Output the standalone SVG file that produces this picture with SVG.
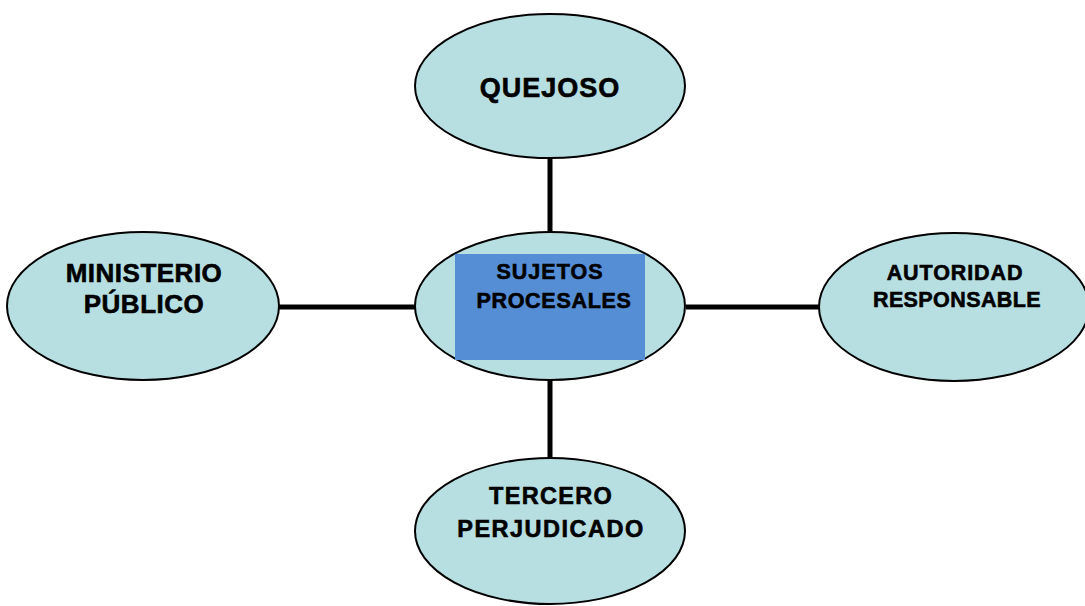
<svg xmlns="http://www.w3.org/2000/svg" width="1085" height="606" viewBox="0 0 1085 606">
<style>
.node{fill:#b7dfe2;stroke:#000;stroke-width:2}
.conn{stroke:#000;stroke-width:5;fill:none}
.lbl{font-family:"Liberation Sans",Arial,sans-serif;font-weight:bold;fill:#000;stroke:#000;stroke-width:0.6;text-anchor:middle}
</style>
<rect width="1085" height="606" fill="#fff"/>
<g id="connectors">
<line class="conn" x1="550" y1="158" x2="550" y2="233"/>
<line class="conn" x1="550" y1="380" x2="550" y2="458"/>
<line class="conn" x1="279" y1="307" x2="415" y2="307"/>
<line class="conn" x1="686" y1="307" x2="819" y2="307"/>
</g>
<g id="quejoso">
<ellipse class="node" cx="550" cy="86" rx="135" ry="72"/>
<text class="lbl" x="550" y="97" font-size="27" letter-spacing="1">QUEJOSO</text>
</g>
<g id="sujetos">
<ellipse class="node" cx="550" cy="306" rx="135" ry="74"/>
<rect x="455" y="254" width="190" height="106" fill="#558ed5"/>
<text class="lbl" x="550" y="279" font-size="21.5" letter-spacing="1">SUJETOS</text>
<text class="lbl" x="554" y="308" font-size="21.5" letter-spacing="0.7">PROCESALES</text>
</g>
<g id="ministerio">
<ellipse class="node" cx="143" cy="306" rx="136" ry="74"/>
<text class="lbl" x="144" y="282" font-size="26" letter-spacing="0.5">MINISTERIO</text>
<text class="lbl" x="144" y="313" font-size="26" letter-spacing="0.5">PÚBLICO</text>
</g>
<g id="autoridad">
<ellipse class="node" cx="954" cy="307" rx="135" ry="74"/>
<text class="lbl" x="955" y="280" font-size="21.5" letter-spacing="0.9">AUTORIDAD</text>
<text class="lbl" x="957" y="307" font-size="21.5" letter-spacing="0.4">RESPONSABLE</text>
</g>
<g id="tercero">
<ellipse class="node" cx="550" cy="531" rx="135" ry="73"/>
<text class="lbl" x="551" y="504" font-size="23.5" letter-spacing="1.3">TERCERO</text>
<text class="lbl" x="551" y="537" font-size="23.5" letter-spacing="1.5">PERJUDICADO</text>
</g>
</svg>
